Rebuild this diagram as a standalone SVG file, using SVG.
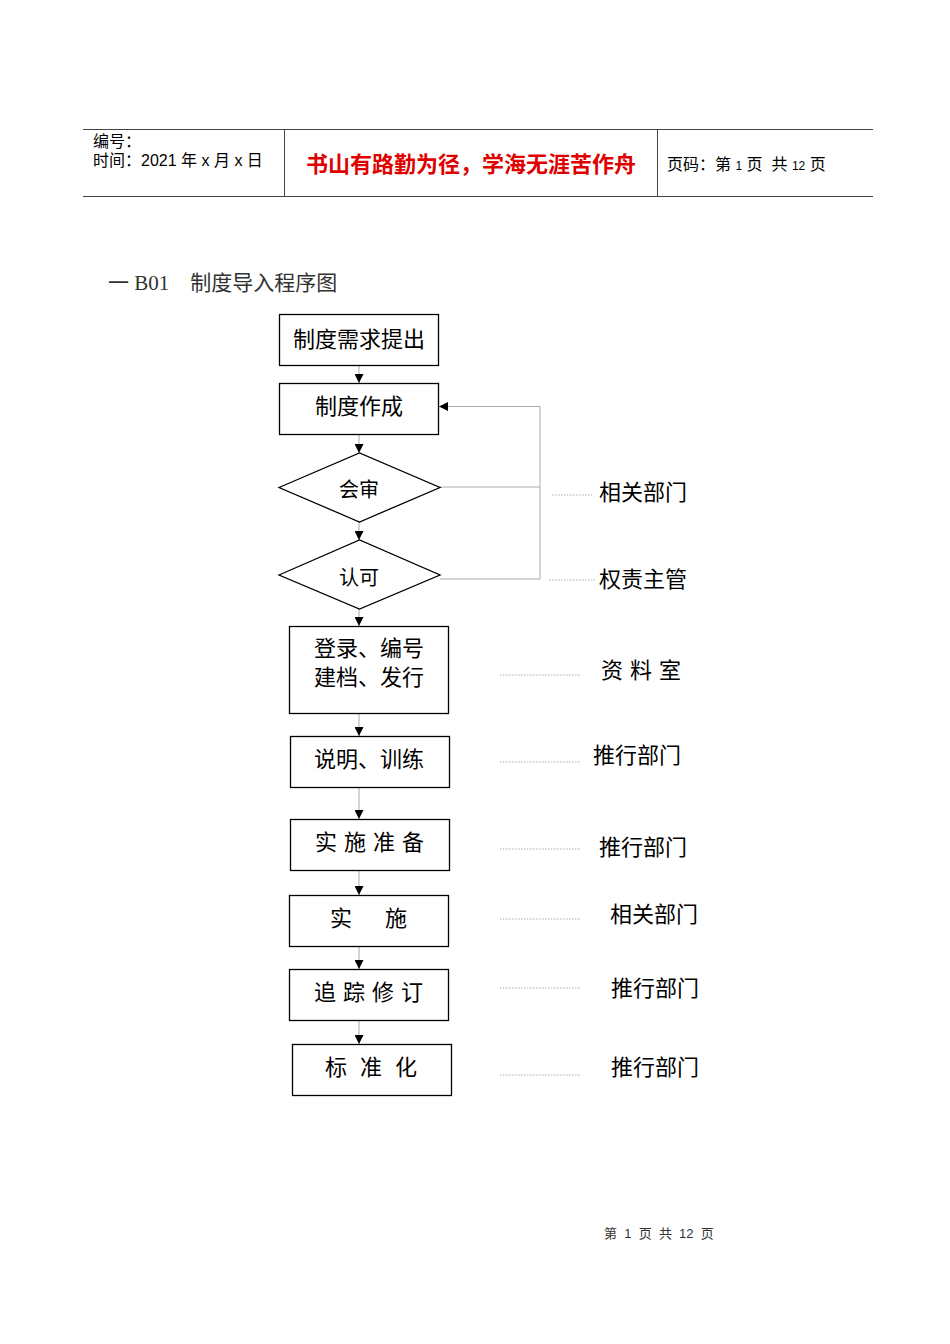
<svg xmlns="http://www.w3.org/2000/svg" width="950" height="1344" viewBox="0 0 950 1344">
<style>
.t{font-family:"Liberation Sans","Noto Sans CJK SC",sans-serif;fill:#000}
.pre{white-space:pre}
.box{fill:#fff;stroke:#000;stroke-width:1.3}
.con{stroke:#aaa;stroke-width:1;fill:none}
.dot{stroke:#aaa;stroke-width:1;stroke-dasharray:1.5 1.5;fill:none}
.hd{stroke:#444;stroke-width:1}
</style>
<defs>
<marker id="ah" markerWidth="9" markerHeight="9" refX="9" refY="4.5" orient="auto" markerUnits="userSpaceOnUse">
<path d="M0,0 L9,4.5 L0,9 Z" fill="#000"/>
</marker>
</defs>
<rect width="950" height="1344" fill="#fff"/>
<g id="header">
<line class="hd" x1="83" y1="129.5" x2="873" y2="129.5"/>
<line class="hd" x1="83" y1="196.5" x2="873" y2="196.5"/>
<line class="hd" x1="284.5" y1="129" x2="284.5" y2="196"/>
<line class="hd" x1="657.5" y1="129" x2="657.5" y2="196"/>
<text class="t" x="93" y="147" font-size="16">编号：</text>
<text class="t pre" x="93" y="166" font-size="16">时间：2021 年 x 月 x 日</text>
<text class="t" x="471" y="172" font-size="22" font-weight="bold" text-anchor="middle" style="fill:#e00000">书山有路勤为径，学海无涯苦作舟</text>
<text class="t pre" x="667" y="170" font-size="16">页码：第 <tspan font-size="12">1</tspan> 页  共 <tspan font-size="12">12</tspan> 页</text>
</g>
<text id="title" x="108" y="290" font-size="21" style="font-family:'Liberation Serif','Noto Sans CJK SC',serif;fill:#333">一 B01　制度导入程序图</text>
<g id="connectors">
<line class="con" x1="359" y1="365" x2="359" y2="383" marker-end="url(#ah)"/>
<line class="con" x1="359" y1="434" x2="359" y2="453" marker-end="url(#ah)"/>
<line class="con" x1="359" y1="522" x2="359" y2="540" marker-end="url(#ah)"/>
<line class="con" x1="359" y1="609" x2="359" y2="626" marker-end="url(#ah)"/>
<line class="con" x1="359" y1="713" x2="359" y2="736" marker-end="url(#ah)"/>
<line class="con" x1="359" y1="787" x2="359" y2="819" marker-end="url(#ah)"/>
<line class="con" x1="359" y1="870" x2="359" y2="895" marker-end="url(#ah)"/>
<line class="con" x1="359" y1="946" x2="359" y2="969" marker-end="url(#ah)"/>
<line class="con" x1="359" y1="1020" x2="359" y2="1044" marker-end="url(#ah)"/>
<polyline class="con" points="440,487 540,487"/>
<polyline class="con" points="440,579 540,579 540,406.5 439,406.5" marker-end="url(#ah)"/>
<line class="dot" x1="552" y1="495" x2="592" y2="495"/>
<line class="dot" x1="549" y1="580" x2="595" y2="580"/>
<line class="dot" x1="500" y1="675" x2="580" y2="675"/>
<line class="dot" x1="500" y1="762" x2="580" y2="762"/>
<line class="dot" x1="500" y1="849" x2="580" y2="849"/>
<line class="dot" x1="500" y1="919" x2="580" y2="919"/>
<line class="dot" x1="500" y1="988" x2="580" y2="988"/>
<line class="dot" x1="500" y1="1075" x2="580" y2="1075"/>
</g>
<g id="n1"><rect class="box" x="279.5" y="314.5" width="159" height="51"/><text class="t" x="359" y="347" font-size="22" text-anchor="middle">制度需求提出</text></g>
<g id="n2"><rect class="box" x="279.5" y="383.5" width="159" height="51"/><text class="t" x="359" y="414" font-size="22" text-anchor="middle">制度作成</text></g>
<g id="n3"><polygon class="box" points="279,487.5 359.5,453 440,487.5 359.5,522"/><text class="t" x="359" y="497" font-size="20" text-anchor="middle">会审</text></g>
<g id="n4"><polygon class="box" points="279,575 359.5,540 440,575 359.5,609"/><text class="t" x="359" y="585" font-size="20" text-anchor="middle">认可</text></g>
<g id="n5"><rect class="box" x="289.5" y="626.5" width="159" height="87"/><text class="t" x="369" y="656" font-size="22" text-anchor="middle">登录、编号</text><text class="t" x="369" y="685" font-size="22" text-anchor="middle">建档、发行</text></g>
<g id="n6"><rect class="box" x="290.5" y="736.5" width="159" height="51"/><text class="t" x="369" y="767" font-size="22" text-anchor="middle">说明、训练</text></g>
<g id="n7"><rect class="box" x="290.5" y="819.5" width="159" height="51"/><text class="t" x="315" y="850" font-size="22" letter-spacing="7">实施准备</text></g>
<g id="n8"><rect class="box" x="289.5" y="895.5" width="159" height="51"/><text class="t" x="330" y="926" font-size="22" letter-spacing="33">实施</text></g>
<g id="n9"><rect class="box" x="289.5" y="969.5" width="159" height="51"/><text class="t" x="314" y="1000" font-size="22" letter-spacing="7">追踪修订</text></g>
<g id="n10"><rect class="box" x="292.5" y="1044.5" width="159" height="51"/><text class="t" x="325" y="1075" font-size="22" letter-spacing="13">标准化</text></g>
<g id="labels">
<text class="t" x="599" y="500" font-size="22">相关部门</text>
<text class="t" x="599" y="587" font-size="22">权责主管</text>
<text class="t" x="601" y="678" font-size="22" letter-spacing="7">资料室</text>
<text class="t" x="593" y="763" font-size="22">推行部门</text>
<text class="t" x="599" y="855" font-size="22">推行部门</text>
<text class="t" x="610" y="922" font-size="22">相关部门</text>
<text class="t" x="611" y="996" font-size="22">推行部门</text>
<text class="t" x="611" y="1075" font-size="22">推行部门</text>
</g>
<text id="footer" class="t pre" x="604" y="1238" font-size="13" style="fill:#333">第  1  页  共  12  页</text>
</svg>
